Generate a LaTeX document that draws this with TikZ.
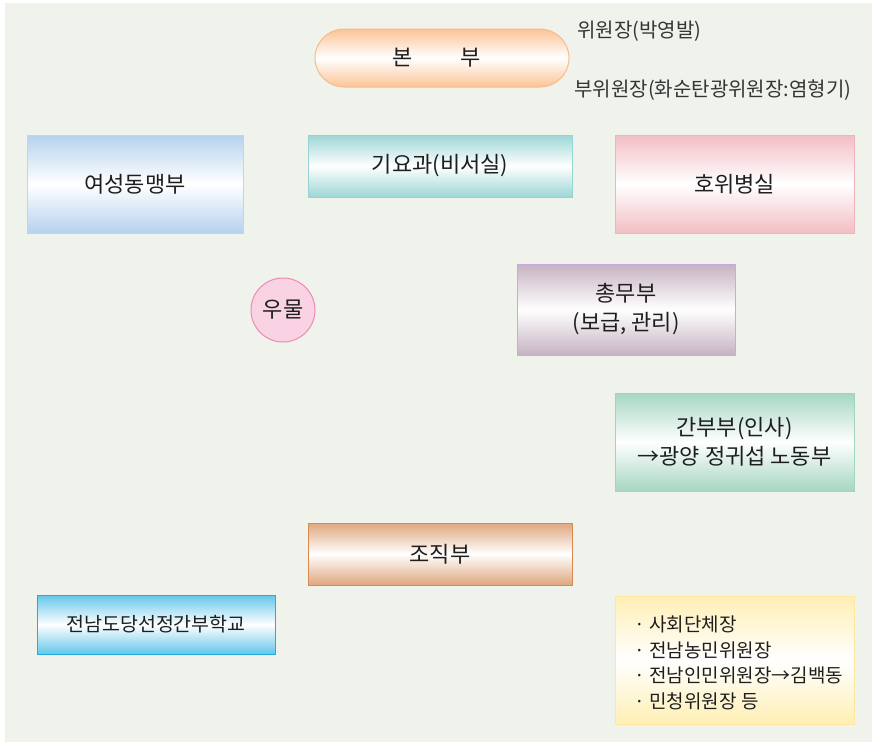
\documentclass[tikz,border=0pt]{standalone}
\usepackage{fontspec}
\setmainfont{Noto Sans CJK KR}
\definecolor{bgc}{HTML}{F0F3EC}
\definecolor{txt}{HTML}{1E1E1E}
\definecolor{orA}{HTML}{FBC496}
\definecolor{orB}{HTML}{F5BC8C}
\definecolor{blA}{HTML}{B6D2EE}
\definecolor{blB}{HTML}{BCD6F0}
\definecolor{tlA}{HTML}{9DD6D6}
\definecolor{tlB}{HTML}{96D4D4}
\definecolor{pkA}{HTML}{F2BEC4}
\definecolor{pkB}{HTML}{EEB4BA}
\definecolor{ciA}{HTML}{F9D2E4}
\definecolor{ciB}{HTML}{EE8AB2}
\definecolor{puA}{HTML}{C6B2C2}
\definecolor{puB}{HTML}{C4ACDC}
\definecolor{grA}{HTML}{A6D6C2}
\definecolor{grB}{HTML}{A0D4BC}
\definecolor{brA}{HTML}{DFA67E}
\definecolor{brB}{HTML}{D88A50}
\definecolor{cyA}{HTML}{64C6EA}
\definecolor{cyB}{HTML}{1EAEE0}
\definecolor{yeA}{HTML}{FFEFB4}
\definecolor{yeB}{HTML}{FFE7A0}
\tikzset{
  gbox/.style n args={2}{draw=#2, line width=1pt, top color=#1, bottom color=#1, middle color=white, text=txt, align=center, inner sep=0pt},
  lbl/.style={font=\fontsize{22}{29}\selectfont, text=txt},
  side/.style={anchor=west, text=txt!90, font=\fontsize{20}{24}\selectfont},
}
\begin{document}
\begin{tikzpicture}[x=1pt,y=-1pt]
\useasboundingbox (0,0) rectangle (872,742);
\fill[white] (0,0) rectangle (872,742);
\fill[bgc] (5,3) rectangle (872,742);
% 본부
\node[gbox={orA}{orB}, rounded corners=29pt, minimum width=254pt, minimum height=58pt, font=\fontsize{22}{26}\selectfont] (bonbu) at (442,58) {본\hspace{2.2em}부\hspace{11pt}};
\node[side] (wij) at (574,31) {위원장(박영발)};
\node[side] (buwij) at (571,90) {부위원장(화순탄광위원장:염형기)};
% row 1
\node[gbox={blA}{blB}, minimum width=216pt, minimum height=98pt, lbl] (yeo) at (135,184) {여성동맹부};
\node[gbox={tlA}{tlB}, minimum width=264pt, minimum height=62pt, lbl] (giyo) at (440,166) {기요과(비서실)};
\node[gbox={pkA}{pkB}, minimum width=239pt, minimum height=98pt, lbl] (howi) at (734.5,184) {호위병실};
% 우물
\node[circle, draw=ciB, line width=1pt, fill=ciA, minimum size=64pt, inner sep=0pt, lbl] (umul) at (283,310) {우물};
% 총무부
\node[gbox={puA}{puB}, minimum width=218pt, minimum height=91pt, lbl] (chong) at (626,309.5) {총무부\\(보급, 관리)};
% 간부부
\node[gbox={grA}{grB}, minimum width=239pt, minimum height=98pt, lbl] (ganbu) at (734.5,442) {간부부(인사)\\→광양 정귀섭 노동부};
% 조직부
\node[gbox={brA}{brB}, minimum width=264pt, minimum height=62pt, lbl] (jojik) at (440,554) {조직부};
% 전남도당
\node[gbox={cyA}{cyB}, minimum width=238pt, minimum height=59pt, font=\fontsize{19.5}{24}\selectfont] (jeonnam) at (156,624.5) {전남도당선정간부학교};
% yellow box
\node[gbox={yeA}{yeB}, minimum width=239pt, minimum height=128pt, font=\fontsize{19}{25.7}\selectfont] (misc) at (734.5,660) {};
\node[anchor=west, align=left, text=txt, font=\fontsize{19}{25.7}\selectfont] (misctxt) at (631,663) {· 사회단체장\\· 전남농민위원장\\· 전남인민위원장→김백동\\· 민청위원장 등};
\end{tikzpicture}
\end{document}
